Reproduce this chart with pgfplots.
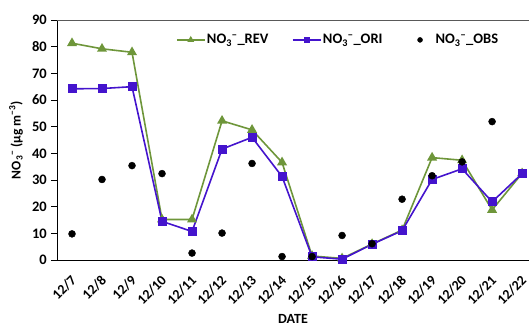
\documentclass[border=0pt]{standalone}
\usepackage{pgfplots}
\pgfplotsset{compat=1.18}
\usepackage{fontspec}
\setmainfont{Carlito}
\definecolor{revg}{RGB}{110,150,58}
\definecolor{orib}{RGB}{68,20,205}
\begin{document}
\begin{tikzpicture}
\begin{axis}[
  name=ax,
  scale only axis,
  width=472pt, height=240pt,
  xmin=-0.5, xmax=15.23,
  ymin=0, ymax=90,
  ytick={0,10,...,90},
  xtick={0,...,15},
  xticklabels={12/7,12/8,12/9,12/10,12/11,12/12,12/13,12/14,12/15,12/16,12/17,12/18,12/19,12/20,12/21,12/22},
  major x tick style={draw=none},
  extra x ticks={0.5,1.5,...,14.5},
  extra x tick labels={},
  extra x tick style={tick style={draw=black,thick}, major tick length=5pt},
  tick align=outside,
  major tick length=6pt,
  axis x line*=bottom,
  axis y line*=left,
  axis line style={thick,black},
  y tick style={black,thick},
  xticklabel style={rotate=45, anchor=north east, font=\bfseries\fontsize{14}{16}\selectfont, inner sep=1pt, xshift=-6pt, yshift=-3.4pt},
  yticklabel style={font=\bfseries\fontsize{14.5}{16}\selectfont, inner sep=4pt},
  /pgf/number format/assume math mode=true,
  xlabel={DATE},
  xlabel style={font=\bfseries\fontsize{14}{16}\selectfont, at={(rel axis cs:0.5,0)}, anchor=center, yshift=-59pt},
  ylabel={NO\textsubscript{3}\textsuperscript{−} (μg m\textsuperscript{−3})},
  ylabel style={font=\bfseries\fontsize{13.5}{16}\selectfont, at={(rel axis cs:0,0.5)}, anchor=center, yshift=41pt},
  legend columns=3,
  legend style={draw=none, fill=none, at={(0.595,0.917)}, anchor=center, font=\bfseries\fontsize{14.5}{16}\selectfont, inner sep=0pt, /tikz/every even column/.append style={column sep=22pt}, nodes={inner sep=1.5pt}},
  legend cell align=left,
  clip=false,
]
\addplot[revg, line width=1.6pt, mark=triangle*, mark size=4.2pt,
  legend image code/.code={\draw[mark repeat=2,mark phase=2,line width=1.4pt,mark size=2.6pt] plot coordinates {(0pt,0pt)(14pt,0pt)(28pt,0pt)};}] coordinates {
(0,81.3) (1,79.2) (2,77.9) (3,15.2) (4,15.2) (5,52.2) (6,48.8) (7,36.6) (8,1.5) (9,0.6) (10,6.0) (11,11.2) (12,38.4) (13,37.4) (14,18.8) (15,32.5)};
\addlegendentry{NO\textsubscript{3}\textsuperscript{−}\_REV}
\addplot[orib, line width=1.6pt, mark=square*, mark size=3.7pt,
  legend image code/.code={\draw[mark repeat=2,mark phase=2,line width=1.4pt,mark size=2.2pt] plot coordinates {(0pt,0pt)(14pt,0pt)(28pt,0pt)};}] coordinates {
(0,64.2) (1,64.3) (2,65.0) (3,14.5) (4,10.7) (5,41.6) (6,46.0) (7,31.3) (8,1.2) (9,0.3) (10,5.9) (11,11.0) (12,30.2) (13,34.2) (14,21.8) (15,32.4)};
\addlegendentry{NO\textsubscript{3}\textsuperscript{−}\_ORI}
\addplot[only marks, black, mark=*, mark size=3.5pt,
  legend image code/.code={\path[draw=none,fill=none] (0pt,0pt) -- (28pt,0pt); \draw[mark size=2.5pt] plot coordinates {(14pt,0pt)};}] coordinates {
(0,9.8) (1,30.2) (2,35.4) (3,32.4) (4,2.6) (5,10.1) (6,36.2) (7,1.3) (8,1.3) (9,9.2) (10,6.1) (11,22.8) (12,31.6) (13,36.8) (14,51.9)};
\addlegendentry{NO\textsubscript{3}\textsuperscript{−}\_OBS}
\draw[gray!70!black, thick] (rel axis cs:0,1) -- (rel axis cs:1,1);
\end{axis}
\pgfresetboundingbox
\path ([xshift=-57pt,yshift=-67pt]ax.south west) rectangle ([xshift=472pt,yshift=260pt]ax.south west);
\end{tikzpicture}
\end{document}
